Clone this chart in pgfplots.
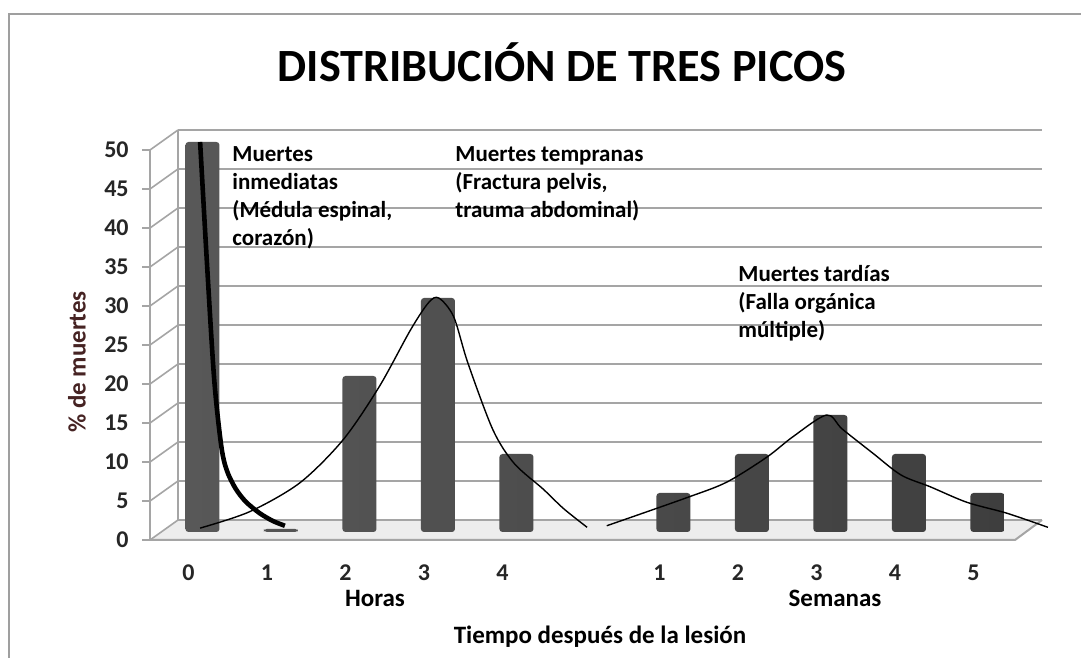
\documentclass[border=0pt]{standalone}
\usepackage{fontspec}
\setmainfont{Carlito}
\usepackage{pgfplots}
\pgfplotsset{compat=1.18}
\definecolor{barA}{RGB}{112,112,112}
\definecolor{barB}{RGB}{88,88,88}
\definecolor{barC}{RGB}{62,62,62}
\definecolor{gridc}{RGB}{165,165,165}
\definecolor{ylab}{RGB}{70,35,35}
\begin{document}
\begin{tikzpicture}[font=\bfseries]
\useasboundingbox (0,0) rectangle (540.5pt,329pt);
\begin{scope}[x=0.5pt,y=-0.5pt,yshift=329pt]
  % frame
  \draw[gray!75, line width=1pt] (9,662) -- (9,14) -- (1085,14);
  % floor
  \fill[gray!14] (150,540) -- (1015,540) -- (1042,520) -- (178,520) -- cycle;
  \draw[gridc, line width=1pt] (150,540) -- (1015,540) -- (1042,520);
  % back wall gridlines and side diagonals
  \foreach \v in {0,5,...,50}{
    \draw[gridc, line width=1pt] (178,520-7.8*\v) -- (1042,520-7.8*\v);
    \draw[gridc, line width=0.8pt] (142,540-7.8*\v) -- (150,540-7.8*\v) -- (178,520-7.8*\v);
  }
  \draw[gridc, line width=1pt] (150,540) -- (150,150);
  \draw[gridc, line width=1pt] (178,520) -- (178,130);
\end{scope}
\begin{axis}[
  at={(82pt,63pt)}, anchor=south west, scale only axis,
  x=39.25pt, y=3.9pt,
  xmin=-0.49, xmax=10.53, ymin=0, ymax=50,
  clip=false,
  axis line style={draw=none},
  major tick length=0pt,
  xtick={0,1,2,3,4,6,7,8,9,10},
  xticklabels={0,1,2,3,4,1,2,3,4,5},
  ytick={0,5,...,50},
  /pgf/number format/assume math mode=true,
  xticklabel style={anchor=base, inner sep=0pt, xshift=-7pt, yshift=-24.5pt, font=\bfseries\fontsize{12}{14}\selectfont, text=black!85},
  yticklabel style={anchor=east, inner sep=0pt, xshift=-17.5pt, yshift=-4pt, font=\bfseries\fontsize{12}{14}\selectfont, text=black!85},
]
\addplot[ybar, bar width=17pt, draw=none, rounded corners=1.5pt,
  left color=barB, middle color=barA, right color=barC]
  coordinates {(0,50) (1,0.4) (2,20) (3,30) (4,10) (6,5) (7,10) (8,15) (9,10) (10,5)};
% inmediatas
\addplot[black, line width=2.3pt, smooth, tension=0.5] coordinates {
 (-0.03,50) (0.06,34) (0.15,19.5) (0.24,11) (0.31,7.9) (0.42,5.6) (0.55,3.9) (0.73,2.4) (0.9,1.4) (1.05,0.8)};
% tempranas
\addplot[black, line width=0.7pt, smooth, tension=0.5] coordinates {
 (-0.03,0.5) (0.6,2.6) (1.24,6.3) (1.79,11.8) (2.25,18.6) (2.65,25.9) (2.88,29.4) (3.01,30) (3.2,27.6) (3.38,21.7) (3.7,13.1) (3.97,8.8) (4.34,5.5) (4.6,3) (4.9,0.6)};
% tardias
\addplot[black, line width=0.7pt, smooth, tension=0.5] coordinates {
 (5.15,0.8) (6.17,4.4) (6.68,6.4) (7.19,9.6) (7.52,12.2) (7.95,15) (8.15,13.2) (8.54,10.1) (8.9,7.3) (9.27,5.8) (9.74,3.8) (10.25,2.4) (10.77,0.6)};
\end{axis}
\begin{scope}[x=0.5pt,y=-0.5pt,yshift=329pt]
  \node[font=\fontsize{23.1}{28}\selectfont\bfseries] at (562,62) {DISTRIBUCIÓN DE TRES PICOS};
  \node[font=\fontsize{12.5}{14}\selectfont\bfseries] at (375,598) {Horas};
  \node[font=\fontsize{12.5}{14}\selectfont\bfseries] at (835,598) {Semanas};
  \node[font=\fontsize{12.5}{14}\selectfont\bfseries] at (600,637) {Tiempo después de la lesión};
  \node[font=\fontsize{12.5}{14}\selectfont\bfseries, text=ylab, rotate=90] at (77,362) {\% de muertes};
  \node[font=\fontsize{11.5}{14}\selectfont\bfseries, anchor=north west, align=left, inner sep=0pt] at (232,146) {Muertes\\inmediatas\\(Médula espinal,\\corazón)};
  \node[font=\fontsize{11.5}{14}\selectfont\bfseries, anchor=north west, align=left, inner sep=0pt] at (455,146) {Muertes tempranas\\(Fractura pelvis,\\trauma abdominal)};
  \node[font=\fontsize{11.5}{14}\selectfont\bfseries, anchor=north west, align=left, inner sep=0pt] at (738,265) {Muertes tardías\\(Falla orgánica\\múltiple)};
\end{scope}
\end{tikzpicture}
\end{document}
